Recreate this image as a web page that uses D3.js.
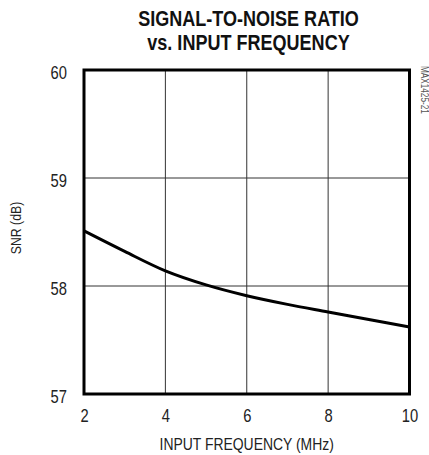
<!DOCTYPE html>
<html>
<head>
<meta charset="utf-8">
<script src="https://cdn.jsdelivr.net/npm/d3@7"></script>
<style>
  html, body { margin: 0; padding: 0; background: #fff; }
  svg text { font-family: "Liberation Sans", Arial, sans-serif; }
</style>
</head>
<body>
<svg id="chart" width="429" height="455"></svg>
<script>
// SNR versus input frequency
const freqMHz = [2, 3, 4, 5, 6, 7, 8, 9, 10];
const snrDb = [58.51, 58.32, 58.14, 58.01, 57.91, 57.83, 57.76, 57.69, 57.62];
const xTicks = [2, 4, 6, 8, 10];
const yTicks = [57, 58, 59, 60];
const titleLines = ["SIGNAL-TO-NOISE RATIO", "vs. INPUT FREQUENCY"];
const xLabel = "INPUT FREQUENCY (MHz)";
const yLabel = "SNR (dB)";
const figureId = "MAX1425-21";

const NARROW = 0.82; // horizontal squeeze giving a narrow face

const svg = d3.select("#chart");
const plot = { left: 84, right: 409.5, top: 70, bottom: 394 };

const x = d3.scaleLinear().domain([2, 10]).range([plot.left, plot.right]);
const y = d3.scaleLinear().domain([57, 60]).range([plot.bottom, plot.top]);

// narrow text anchored at (tx, ty), optionally rotated
function narrowText(tx, ty, str, opts) {
  const g = svg.append("g")
    .attr("transform", `translate(${tx},${ty}) rotate(${opts.rotate || 0}) scale(${NARROW},1)`);
  return g.append("text")
    .attr("text-anchor", opts.anchor || "middle")
    .attr("font-size", opts.size)
    .attr("font-weight", opts.weight || "normal")
    .attr("fill", opts.fill || "#000")
    .text(str);
}

// Title
titleLines.forEach((t, i) => narrowText(248.5, 26 + i * 24, t, { size: 22, weight: "bold", fill: "#111" }));

// Grid
const grid = svg.append("g").attr("stroke", "#333").attr("stroke-width", 1);
grid.selectAll("line.v").data(xTicks.slice(1, -1)).join("line").attr("class", "v")
  .attr("x1", d => x(d)).attr("x2", d => x(d))
  .attr("y1", plot.top).attr("y2", plot.bottom);
grid.selectAll("line.h").data(yTicks.slice(1, -1)).join("line").attr("class", "h")
  .attr("y1", d => y(d)).attr("y2", d => y(d))
  .attr("x1", plot.left).attr("x2", plot.right);

// Axes (labels only)
const xAxis = d3.axisBottom(x).tickValues(xTicks).tickSize(0).tickPadding(0).tickFormat(d3.format("d"));
const gx = svg.append("g").attr("transform", `translate(0,${plot.bottom + 28})`).call(xAxis);
gx.attr("font-family", null).attr("font-size", null);
gx.select(".domain").remove();
gx.selectAll("text").attr("font-size", 18).attr("fill", "#222").attr("dy", 0).attr("y", 0)
  .attr("transform", `scale(${NARROW},1)`);

const yAxis = d3.axisLeft(y).tickValues(yTicks).tickSize(0).tickPadding(0).tickFormat(d3.format("d"));
const gy = svg.append("g").attr("transform", `translate(67,0)`).call(yAxis);
gy.attr("font-family", null).attr("font-size", null);
gy.select(".domain").remove();
gy.selectAll("text").attr("font-size", 18).attr("fill", "#222").attr("dy", "0.47em")
  .attr("transform", `scale(${NARROW},1)`);

// Curve
const line = d3.line().x((d, i) => x(freqMHz[i])).y(d => y(d)).curve(d3.curveMonotoneX);
svg.append("path").datum(snrDb)
  .attr("d", line).attr("fill", "none").attr("stroke", "#000")
  .attr("stroke-width", 3).attr("stroke-linejoin", "round");

// Frame
svg.append("rect")
  .attr("x", plot.left).attr("y", plot.top)
  .attr("width", plot.right - plot.left).attr("height", plot.bottom - plot.top)
  .attr("fill", "none").attr("stroke", "#000").attr("stroke-width", 3);

// Axis titles
narrowText(246.7, 450, xLabel, { size: 17, fill: "#222" });
narrowText(21, 228, yLabel, { size: 15, rotate: -90, fill: "#222" });

// Figure id
narrowText(421, 66, figureId, { size: 10, rotate: 90, anchor: "start", fill: "#555" });
</script>
</body>
</html>
